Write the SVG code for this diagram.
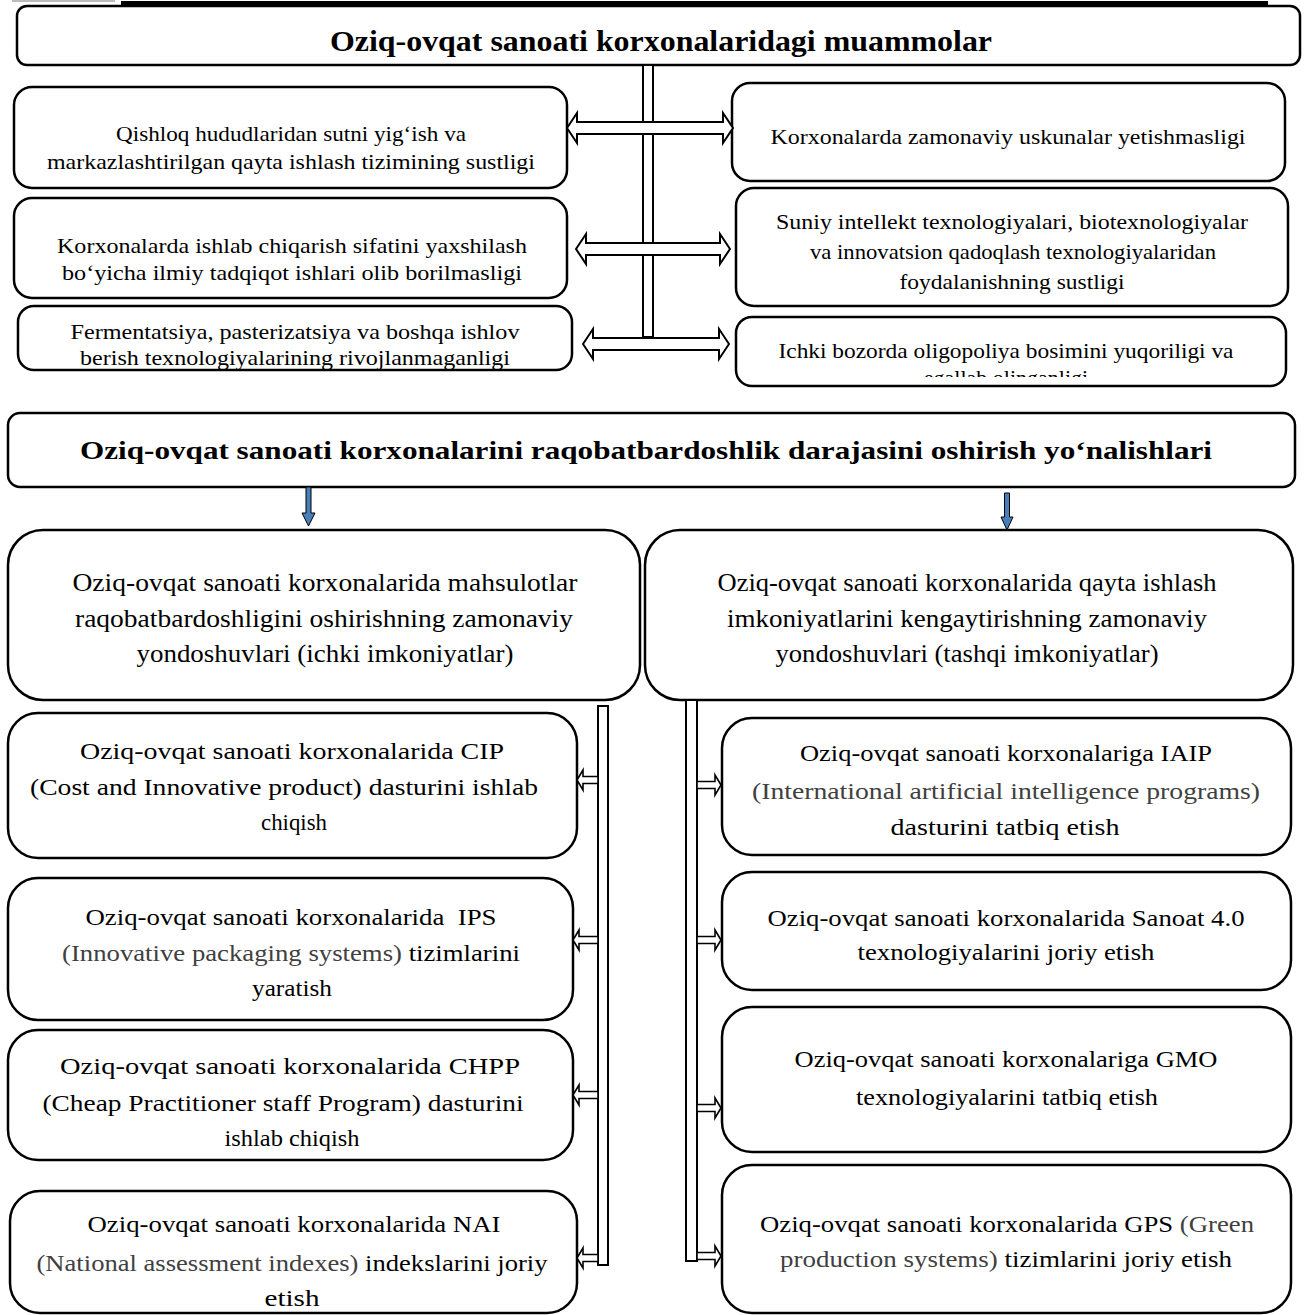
<svg xmlns="http://www.w3.org/2000/svg" width="1304" height="1315" viewBox="0 0 1304 1315">
<style>
.box{fill:#fff;stroke:#000;stroke-width:2.5}
.t{font-family:"Liberation Serif","Times New Roman",serif;fill:#000;text-anchor:middle}
.b{font-weight:bold}
.s20{font-size:22px}
.s22{font-size:24px}
.s23{font-size:25px}
.g{fill:#404040}
.harr{fill:#fff;stroke:#000;stroke-width:2}
.sarr{fill:#fff;stroke:#000;stroke-width:1.6}
.bar{fill:#fff;stroke:#000;stroke-width:2}
.blue{fill:#4a7ebb;stroke:#000;stroke-width:1}
</style>
<defs>
<clipPath id="clipR3"><rect x="736" y="317" width="552" height="60"/></clipPath>
</defs>
<rect width="1304" height="1315" fill="#fff"/>
<rect x="12" y="0" width="103" height="2" fill="#bbb"/>
<rect x="121" y="1" width="1147" height="5" fill="#000"/>

<g id="title1">
<rect class="box" x="17" y="6" width="1283" height="59" rx="10"/>
<text class="t b" x="661" y="51" font-size="30" textLength="662" lengthAdjust="spacingAndGlyphs">Oziq-ovqat sanoati korxonalaridagi muammolar</text>
</g>

<g id="L1">
<rect class="box" x="14" y="87" width="553" height="101" rx="18"/>
<text class="t s20" x="291" y="141" textLength="350" lengthAdjust="spacingAndGlyphs">Qishloq hududlaridan sutni yig‘ish va</text>
<text class="t s20" x="291" y="169" textLength="488" lengthAdjust="spacingAndGlyphs">markazlashtirilgan qayta ishlash tizimining sustligi</text>
</g>
<g id="L2">
<rect class="box" x="14" y="198" width="553" height="100" rx="18"/>
<text class="t s20" x="292" y="253" textLength="470" lengthAdjust="spacingAndGlyphs">Korxonalarda ishlab chiqarish sifatini yaxshilash</text>
<text class="t s20" x="292" y="280" textLength="460" lengthAdjust="spacingAndGlyphs">bo‘yicha ilmiy tadqiqot ishlari olib borilmasligi</text>
</g>
<g id="L3">
<rect class="box" x="18" y="306" width="554" height="64" rx="16"/>
<text class="t s20" x="295" y="339" textLength="449" lengthAdjust="spacingAndGlyphs">Fermentatsiya, pasterizatsiya va boshqa ishlov</text>
<text class="t s20" x="295" y="365" textLength="430" lengthAdjust="spacingAndGlyphs">berish texnologiyalarining rivojlanmaganligi</text>
</g>
<g id="R1">
<rect class="box" x="732" y="83" width="553" height="98" rx="18"/>
<text class="t s20" x="1008" y="144" textLength="475" lengthAdjust="spacingAndGlyphs">Korxonalarda zamonaviy uskunalar yetishmasligi</text>
</g>
<g id="R2">
<rect class="box" x="736" y="188" width="552" height="118" rx="18"/>
<text class="t s20" x="1012" y="229" textLength="472" lengthAdjust="spacingAndGlyphs">Suniy intellekt texnologiyalari, biotexnologiyalar</text>
<text class="t s20" x="1013" y="259" textLength="406" lengthAdjust="spacingAndGlyphs">va innovatsion qadoqlash texnologiyalaridan</text>
<text class="t s20" x="1012" y="289" textLength="225" lengthAdjust="spacingAndGlyphs">foydalanishning sustligi</text>
</g>
<g id="R3">
<rect class="box" x="736" y="317" width="550" height="69" rx="16"/>
<g clip-path="url(#clipR3)">
<text class="t s20" x="1006" y="358" textLength="455" lengthAdjust="spacingAndGlyphs">Ichki bozorda oligopoliya bosimini yuqoriligi va</text>
<text class="t s20" x="1006" y="385">egallab olinganligi</text>
</g>
</g>

<g id="title2">
<rect class="box" x="8" y="413" width="1287" height="74" rx="12"/>
<text class="t b" x="646" y="459" font-size="26" textLength="1132" lengthAdjust="spacingAndGlyphs">Oziq-ovqat sanoati korxonalarini raqobatbardoshlik darajasini oshirish yo‘nalishlari</text>
</g>

<g id="bigL">
<rect class="box" x="8" y="530" width="632" height="170" rx="35"/>
<text class="t s23" x="325" y="591" textLength="505" lengthAdjust="spacingAndGlyphs">Oziq-ovqat sanoati korxonalarida mahsulotlar</text>
<text class="t s23" x="324" y="627" textLength="498" lengthAdjust="spacingAndGlyphs">raqobatbardoshligini oshirishning zamonaviy</text>
<text class="t s23" x="325" y="662" textLength="377" lengthAdjust="spacingAndGlyphs">yondoshuvlari (ichki imkoniyatlar)</text>
</g>
<g id="bigR">
<rect class="box" x="645" y="530" width="648" height="170" rx="35"/>
<text class="t s23" x="967" y="591" textLength="499" lengthAdjust="spacingAndGlyphs">Oziq-ovqat sanoati korxonalarida qayta ishlash</text>
<text class="t s23" x="967" y="627" textLength="480" lengthAdjust="spacingAndGlyphs">imkoniyatlarini kengaytirishning zamonaviy</text>
<text class="t s23" x="967" y="662" textLength="383" lengthAdjust="spacingAndGlyphs">yondoshuvlari (tashqi imkoniyatlar)</text>
</g>

<g id="LA">
<rect class="box" x="8" y="713" width="569" height="145" rx="30"/>
<text class="t s22" x="292" y="759" textLength="424" lengthAdjust="spacingAndGlyphs">Oziq-ovqat sanoati korxonalarida CIP</text>
<text class="t s22" x="284" y="795" textLength="508" lengthAdjust="spacingAndGlyphs">(Cost and Innovative product) dasturini ishlab</text>
<text class="t s22" x="294" y="830" textLength="66" lengthAdjust="spacingAndGlyphs">chiqish</text>
</g>
<g id="LB">
<rect class="box" x="8" y="878" width="565" height="142" rx="30"/>
<text class="t s22" x="291" y="925" textLength="411" lengthAdjust="spacingAndGlyphs" xml:space="preserve">Oziq-ovqat sanoati korxonalarida  IPS</text>
<text class="t s22" x="291" y="961" textLength="458" lengthAdjust="spacingAndGlyphs"><tspan class="g">(Innovative packaging systems)</tspan> tizimlarini</text>
<text class="t s22" x="292" y="996" textLength="80" lengthAdjust="spacingAndGlyphs">yaratish</text>
</g>
<g id="LC">
<rect class="box" x="8" y="1030" width="565" height="130" rx="30"/>
<text class="t s22" x="290" y="1074" textLength="460" lengthAdjust="spacingAndGlyphs">Oziq-ovqat sanoati korxonalarida CHPP</text>
<text class="t s22" x="283" y="1111" textLength="481" lengthAdjust="spacingAndGlyphs">(Cheap Practitioner staff Program) dasturini</text>
<text class="t s22" x="292" y="1146" textLength="135" lengthAdjust="spacingAndGlyphs">ishlab chiqish</text>
</g>
<g id="LD">
<rect class="box" x="10" y="1191" width="567" height="122" rx="30"/>
<text class="t s22" x="294" y="1232" textLength="413" lengthAdjust="spacingAndGlyphs">Oziq-ovqat sanoati korxonalarida NAI</text>
<text class="t s22" x="292" y="1271" textLength="511" lengthAdjust="spacingAndGlyphs"><tspan class="g">(National assessment indexes)</tspan> indekslarini joriy</text>
<text class="t s22" x="292" y="1306" textLength="55" lengthAdjust="spacingAndGlyphs">etish</text>
</g>

<g id="RA">
<rect class="box" x="722" y="718" width="569" height="137" rx="30"/>
<text class="t s22" x="1006" y="761" textLength="412" lengthAdjust="spacingAndGlyphs">Oziq-ovqat sanoati korxonalariga IAIP</text>
<text class="t s22 g" x="1006" y="799" textLength="508" lengthAdjust="spacingAndGlyphs">(International artificial intelligence programs)</text>
<text class="t s22" x="1005" y="835" textLength="229" lengthAdjust="spacingAndGlyphs">dasturini tatbiq etish</text>
</g>
<g id="RB">
<rect class="box" x="722" y="872" width="569" height="118" rx="30"/>
<text class="t s22" x="1006" y="926" textLength="477" lengthAdjust="spacingAndGlyphs">Oziq-ovqat sanoati korxonalarida Sanoat 4.0</text>
<text class="t s22" x="1006" y="960" textLength="297" lengthAdjust="spacingAndGlyphs">texnologiyalarini joriy etish</text>
</g>
<g id="RC">
<rect class="box" x="722" y="1007" width="569" height="145" rx="30"/>
<text class="t s22" x="1006" y="1067" textLength="423" lengthAdjust="spacingAndGlyphs">Oziq-ovqat sanoati korxonalariga GMO</text>
<text class="t s22" x="1007" y="1105" textLength="302" lengthAdjust="spacingAndGlyphs">texnologiyalarini tatbiq etish</text>
</g>
<g id="RD">
<rect class="box" x="722" y="1165" width="569" height="148" rx="30"/>
<text class="t s22" x="1007" y="1232" textLength="494" lengthAdjust="spacingAndGlyphs">Oziq-ovqat sanoati korxonalarida GPS <tspan class="g">(Green</tspan></text>
<text class="t s22" x="1006" y="1267" textLength="452" lengthAdjust="spacingAndGlyphs"><tspan class="g">production systems)</tspan> tizimlarini joriy etish</text>
</g>

<g id="connectors">
<rect class="bar" x="643" y="65" width="10" height="272"/>
<polygon class="harr" points="567,128 577,113 577,122 723,122 723,113 733,128 723,143 723,134 577,134 577,143"/>
<polygon class="harr" points="576,249 586,234 586,243 720,243 720,234 730,249 720,264 720,255 586,255 586,264"/>
<polygon class="harr" points="583,344 593,329 593,338 719,338 719,329 729,344 719,359 719,350 593,350 593,359"/>

<polygon class="blue" points="306,487 311,487 311,513 315,513 308.5,526 302,513 306,513"/>
<polygon class="blue" points="1004.5,493 1009.5,493 1009.5,517 1013,517 1007,530 1001,517 1004.5,517"/>

<rect class="bar" x="598" y="706" width="10" height="559"/>
<rect class="bar" x="686" y="700" width="11" height="561"/>

<polygon class="sarr" points="577,780 583,770 583,776.5 598,776.5 598,783.5 583,783.5 583,790"/>
<polygon class="sarr" points="573,940 579,930 579,936.5 598,936.5 598,943.5 579,943.5 579,950"/>
<polygon class="sarr" points="573,1095 579,1085 579,1091.5 598,1091.5 598,1098.5 579,1098.5 579,1105"/>
<polygon class="sarr" points="577,1258 583,1248 583,1254.5 598,1254.5 598,1261.5 583,1261.5 583,1268"/>

<polygon class="sarr" points="721,785 715,775 715,781.5 697,781.5 697,788.5 715,788.5 715,795"/>
<polygon class="sarr" points="721,940 715,930 715,936.5 697,936.5 697,943.5 715,943.5 715,950"/>
<polygon class="sarr" points="721,1108 715,1098 715,1104.5 697,1104.5 697,1111.5 715,1111.5 715,1118"/>
<polygon class="sarr" points="721,1256 715,1246 715,1252.5 697,1252.5 697,1259.5 715,1259.5 715,1266"/>
</g>
</svg>
